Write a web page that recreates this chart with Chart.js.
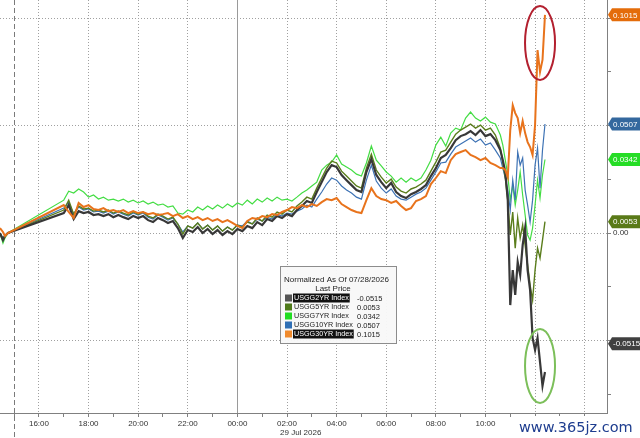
<!DOCTYPE html>
<html>
<head>
<meta charset="utf-8">
<script src="https://cdn.jsdelivr.net/npm/chart.js@4.4.1/dist/chart.umd.min.js"></script>
<style>
  html, body { margin: 0; padding: 0; background: #fff; }
</style>
</head>
<body>
<canvas id="chart" width="640" height="438"></canvas>
<script>
// x = hours from 00:00 on 28 Jul (24 = 00:00 on 29 Jul)
const times = [14.43, 14.55, 14.63, 14.75,
  17.0, 17.2, 17.4, 17.6, 17.8, 18.0, 18.2, 18.4, 18.6, 18.8,
  19.0, 19.2, 19.4, 19.6, 19.8, 20.0, 20.2, 20.4, 20.6, 20.8,
  21.0, 21.2, 21.4, 21.6, 21.8, 22.0, 22.2, 22.4, 22.6, 22.8,
  23.0, 23.2, 23.4, 23.6, 23.8, 24.0, 24.2, 24.4, 24.6, 24.8,
  25.0, 25.2, 25.4, 25.6, 25.8, 26.0, 26.2, 26.4, 26.6, 26.8,
  27.0, 27.2, 27.4, 27.6, 27.8, 28.0, 28.2, 28.4, 28.6, 28.8,
  29.0, 29.2, 29.4, 29.6, 29.8, 30.0, 30.2, 30.4, 30.6, 30.8,
  31.0, 31.2, 31.4, 31.6, 31.8, 32.0, 32.2, 32.4, 32.6, 32.8,
  33.0, 33.2, 33.4, 33.6, 33.8, 34.0, 34.2, 34.4, 34.6,
  34.7, 34.8, 34.9, 35.0, 35.1, 35.2, 35.3, 35.4, 35.5, 35.6,
  35.7, 35.8, 35.9, 36.0, 36.1, 36.2, 36.3, 36.4];

const usgg2yr = [0, -0.0033, -0.0014, 0,
  0.0093, 0.0130, 0.0065, 0.0102, 0.0093, 0.0098, 0.0084, 0.0088, 0.0079, 0.0088,
  0.0074, 0.0084, 0.0074, 0.0065, 0.0079, 0.0070, 0.0079, 0.0060, 0.0051, 0.0070,
  0.0060, 0.0047, 0.0056, 0.0023, -0.0023, 0.0014, 0.0005, 0.0028, 0, 0.0019,
  -0.0005, 0.0014, -0.0009, 0.0009, -0.0005, 0.0019, 0.0009, 0.0033, 0.0023, 0.0051,
  0.0037, 0.0065, 0.0056, 0.0079, 0.0070, 0.0088, 0.0079, 0.0107, 0.0126, 0.0149,
  0.0140, 0.0191, 0.0237, 0.0284, 0.0316, 0.0307, 0.0270, 0.0246, 0.0223, 0.0200,
  0.0191, 0.0284, 0.0344, 0.0270, 0.0237, 0.0209, 0.0233, 0.0191, 0.0172, 0.0163,
  0.0181, 0.0191, 0.0205, 0.0223, 0.0265, 0.0302, 0.0349, 0.0363, 0.0395, 0.0432,
  0.0451, 0.0460, 0.0474, 0.0456, 0.0479, 0.0451, 0.0460, 0.0432, 0.0386,
  0.0339, 0.0284, 0.0153, -0.0335, -0.0172, -0.0288, -0.0135, -0.0195, -0.0056, 0.0023,
  -0.0172, -0.0265, -0.0488, -0.0544, -0.0488, -0.0600, -0.0711, -0.0646];

const usgg5yr = [0, -0.0028, -0.0014, 0,
  0.0107, 0.0153, 0.0088, 0.0126, 0.0112, 0.0116, 0.0102, 0.0107, 0.0098, 0.0107,
  0.0093, 0.0102, 0.0093, 0.0084, 0.0098, 0.0088, 0.0098, 0.0079, 0.0070, 0.0088,
  0.0079, 0.0065, 0.0074, 0.0042, -0.0005, 0.0033, 0.0023, 0.0047, 0.0019, 0.0037,
  0.0014, 0.0033, 0.0009, 0.0028, 0.0014, 0.0037, 0.0028, 0.0051, 0.0042, 0.0070,
  0.0056, 0.0084, 0.0074, 0.0098, 0.0088, 0.0107, 0.0098, 0.0126, 0.0144, 0.0167,
  0.0158, 0.0209, 0.0256, 0.0302, 0.0335, 0.0326, 0.0288, 0.0265, 0.0242, 0.0219,
  0.0209, 0.0302, 0.0367, 0.0293, 0.0260, 0.0233, 0.0251, 0.0214, 0.0195, 0.0186,
  0.0205, 0.0214, 0.0228, 0.0246, 0.0288, 0.0330, 0.0377, 0.0386, 0.0423, 0.0460,
  0.0479, 0.0493, 0.0507, 0.0488, 0.0502, 0.0479, 0.0488, 0.0456, 0.0395,
  0.0330, 0.0256, 0.0153, -0.0009, 0.0098, -0.0070, 0.0070, -0.0023, 0.0037, -0.0056,
  -0.0149, -0.0242, -0.0312, -0.0172, -0.0070, -0.0116, -0.0033, 0.0053];

const usgg7yr = [0, -0.0047, -0.0023, 0,
  0.0153, 0.0195, 0.0186, 0.0205, 0.0191, 0.0167, 0.0177, 0.0158, 0.0167, 0.0153,
  0.0158, 0.0149, 0.0158, 0.0144, 0.0153, 0.0140, 0.0149, 0.0135, 0.0144, 0.0130,
  0.0135, 0.0121, 0.0126, 0.0093, 0.0088, 0.0107, 0.0098, 0.0121, 0.0107, 0.0126,
  0.0112, 0.0130, 0.0116, 0.0135, 0.0121, 0.0140, 0.0130, 0.0153, 0.0135, 0.0158,
  0.0144, 0.0163, 0.0149, 0.0167, 0.0153, 0.0158, 0.0149, 0.0167, 0.0186, 0.0200,
  0.0219, 0.0237, 0.0293, 0.0316, 0.0330, 0.0363, 0.0321, 0.0307, 0.0293, 0.0274,
  0.0265, 0.0326, 0.0405, 0.0339, 0.0312, 0.0284, 0.0265, 0.0237, 0.0256, 0.0237,
  0.0256, 0.0242, 0.0256, 0.0293, 0.0339, 0.0409, 0.0446, 0.0405, 0.0465, 0.0488,
  0.0479, 0.0535, 0.0563, 0.0535, 0.0521, 0.0539, 0.0516, 0.0507, 0.0456,
  0.0409, 0.0339, 0.0270, 0.0153, 0.0223, 0.0130, 0.0200, 0.0284, 0.0177, 0.0084,
  -0.0009, -0.0033, 0.0023, 0.0130, 0.0246, 0.0163, 0.0270, 0.0342];

const usgg10yr = [0, -0.0023, -0.0009, 0,
  0.0116, 0.0144, 0.0088, 0.0121, 0.0107, 0.0112, 0.0098, 0.0102, 0.0093, 0.0102,
  0.0088, 0.0098, 0.0088, 0.0079, 0.0093, 0.0084, 0.0093, 0.0074, 0.0065, 0.0084,
  0.0074, 0.0060, 0.0070, 0.0042, 0.0005, 0.0033, 0.0023, 0.0047, 0.0019, 0.0037,
  0.0014, 0.0033, 0.0009, 0.0028, 0.0014, 0.0037, 0.0033, 0.0056, 0.0042, 0.0065,
  0.0056, 0.0074, 0.0065, 0.0088, 0.0079, 0.0093, 0.0088, 0.0102, 0.0112, 0.0130,
  0.0121, 0.0158, 0.0191, 0.0228, 0.0256, 0.0246, 0.0219, 0.0200, 0.0186, 0.0167,
  0.0158, 0.0246, 0.0316, 0.0242, 0.0209, 0.0186, 0.0205, 0.0172, 0.0158, 0.0153,
  0.0167, 0.0181, 0.0191, 0.0209, 0.0246, 0.0284, 0.0326, 0.0330, 0.0367, 0.0400,
  0.0414, 0.0428, 0.0442, 0.0423, 0.0437, 0.0409, 0.0419, 0.0386, 0.0349,
  0.0302, 0.0256, 0.0200, 0.0107, 0.0246, 0.0153, 0.0377, 0.0316, 0.0349, 0.0200,
  0.0130, 0.0051, 0.0153, 0.0316, 0.0395, 0.0209, 0.0386, 0.0507];

const usgg30yr = [0.0023, 0.0005, -0.0014, 0,
  0.0130, 0.0098, 0.0070, 0.0140, 0.0121, 0.0130, 0.0112, 0.0107, 0.0116, 0.0102,
  0.0107, 0.0098, 0.0107, 0.0093, 0.0102, 0.0093, 0.0098, 0.0088, 0.0093, 0.0084,
  0.0088, 0.0093, 0.0079, 0.0088, 0.0070, 0.0079, 0.0065, 0.0074, 0.0060, 0.0070,
  0.0056, 0.0065, 0.0051, 0.0060, 0.0047, 0.0033, 0.0023, 0.0056, 0.0070, 0.0065,
  0.0079, 0.0074, 0.0088, 0.0084, 0.0098, 0.0107, 0.0121, 0.0116, 0.0130, 0.0121,
  0.0135, 0.0126, 0.0144, 0.0158, 0.0153, 0.0163, 0.0135, 0.0121, 0.0107, 0.0098,
  0.0093, 0.0153, 0.0209, 0.0172, 0.0158, 0.0153, 0.0140, 0.0149, 0.0126, 0.0107,
  0.0116, 0.0149, 0.0158, 0.0172, 0.0228, 0.0256, 0.0288, 0.0279, 0.0339, 0.0367,
  0.0377, 0.0386, 0.0363, 0.0353, 0.0339, 0.0349, 0.0326, 0.0316, 0.0302,
  0.0302, 0.0293, 0.0260, 0.0479, 0.0595, 0.0558, 0.0535, 0.0465, 0.0521, 0.0465,
  0.0423, 0.0400, 0.0363, 0.0502, 0.0851, 0.0749, 0.0805, 0.1015];

const seriesNames = ["USGG2YR Index", "USGG5YR Index", "USGG7YR Index", "USGG10YR Index", "USGG30YR Index"];
const lastPrices = [-0.0515, 0.0053, 0.0342, 0.0507, 0.1015];
const hourTicks = [15, 16, 17, 18, 19, 20, 21, 22, 23, 24, 25, 26, 27, 28, 29, 30, 31, 32, 33, 34, 35, 36, 37, 38];
const valueTicks = [-0.075, -0.05, -0.025, 0, 0.025, 0.05, 0.075, 0.1];
const valueGrid = [-0.05, 0, 0.05, 0.1];

// colours: line, legend swatch, price badge
const lineColors = ["#383838", "#5a7d1c", "#44dd44", "#3d72b4", "#e8731c"];
const swatchColors = ["#555555", "#4f7a1a", "#22dd22", "#2f6fb5", "#f08a2c"];
const badgeColors = ["#404040", "#5a7a18", "#26dd26", "#34689e", "#e46c0a"];

const sessionStart = 15.0;
const dayBreak = 24.0;

const pts = arr => times.map((t, i) => ({ x: t, y: arr[i] }));
const FONT = '"Liberation Sans", Arial, sans-serif';
const clear = "rgba(0,0,0,0)";

const extras = {
  id: "bbgExtras",
  beforeDatasetsDraw(chart) {
    const { ctx, chartArea, scales } = chart;
    ctx.save();
    // day break
    const xd = Math.round(scales.x.getPixelForValue(dayBreak)) + 0.5;
    ctx.strokeStyle = "#9a9a9a";
    ctx.lineWidth = 1;
    ctx.beginPath();
    ctx.moveTo(xd, chartArea.top);
    ctx.lineTo(xd, chartArea.bottom);
    ctx.stroke();
    // session start, dashed through the axis
    const xs = Math.round(scales.x.getPixelForValue(sessionStart)) + 0.5;
    ctx.strokeStyle = "#7a7a7a";
    ctx.setLineDash([5, 3]);
    ctx.beginPath();
    ctx.moveTo(xs, 0);
    ctx.lineTo(xs, chart.height);
    ctx.stroke();
    ctx.restore();
  },
  afterDatasetsDraw(chart) {
    const { ctx, chartArea, scales } = chart;
    ctx.save();

    // annotation ellipses around the last moves
    const rings = [
      { x: 36.2, y: 0.0884, color: "#b3202f" },
      { x: 36.2, y: -0.0618, color: "#7cbf5a" }
    ];
    rings.forEach(r => {
      ctx.strokeStyle = r.color;
      ctx.lineWidth = 2;
      ctx.beginPath();
      ctx.ellipse(scales.x.getPixelForValue(r.x), scales.y.getPixelForValue(r.y), 15, 37, 0, 0, Math.PI * 2);
      ctx.stroke();
    });

    // legend box
    const bx = 280, by = 266, bw = 116, bh = 77;
    ctx.fillStyle = "rgba(248,248,248,0.96)";
    ctx.fillRect(bx, by, bw, bh);
    ctx.strokeStyle = "#8c8c8c";
    ctx.lineWidth = 1;
    ctx.strokeRect(bx + 0.5, by + 0.5, bw, bh);
    ctx.textBaseline = "middle";
    ctx.fillStyle = "#222";
    ctx.font = "8px " + FONT;
    ctx.textAlign = "left";
    ctx.fillText("Normalized As Of 07/28/2026", bx + 4, by + 14);
    ctx.textAlign = "center";
    ctx.fillText("Last Price", bx + 53, by + 23);
    ctx.textAlign = "left";
    seriesNames.forEach((name, i) => {
      const ry = by + 32 + i * 9;
      ctx.fillStyle = swatchColors[i];
      ctx.fillRect(bx + 5, ry - 3.5, 7, 7);
      ctx.font = "7.2px " + FONT;
      const hl = i === 0 || i === 4;
      if (hl) {
        ctx.fillStyle = "#111";
        ctx.fillRect(bx + 13, ry - 4.5, ctx.measureText(name).width + 2, 9);
      }
      ctx.fillStyle = hl ? "#fff" : "#222";
      ctx.fillText(name, bx + 14, ry + 0.5);
      ctx.font = "7.5px " + FONT;
      ctx.fillStyle = "#222";
      ctx.fillText(lastPrices[i].toFixed(4), bx + 77, ry + 0.5);
    });

    // price badges on the right axis
    const x0 = chartArea.right;
    ctx.font = "8px " + FONT;
    lastPrices.forEach((v, i) => {
      const y = Math.max(7, scales.y.getPixelForValue(v));
      ctx.fillStyle = badgeColors[i];
      ctx.beginPath();
      ctx.moveTo(x0 + 1, y);
      ctx.lineTo(x0 + 5, y - 6.5);
      ctx.lineTo(640, y - 6.5);
      ctx.lineTo(640, y + 6.5);
      ctx.lineTo(x0 + 5, y + 6.5);
      ctx.closePath();
      ctx.fill();
      ctx.fillStyle = "#fff";
      ctx.textAlign = "left";
      ctx.fillText(v.toFixed(4), x0 + 6, y + 0.5);
    });

    // date under the axis
    ctx.fillStyle = "#333";
    ctx.font = "8px " + FONT;
    ctx.fillText("29 Jul 2026", scales.x.getPixelForValue(26) - 7, 433);

    // watermark
    ctx.font = '14.5px "DejaVu Sans", sans-serif';
    const wm = "www.365jz.com";
    const ww = ctx.measureText(wm).width;
    ctx.fillStyle = "#fff";
    ctx.fillRect(516, 416, ww + 6, 22);
    ctx.fillStyle = "#1e3d8f";
    ctx.fillText(wm, 519, 428);
    ctx.restore();
  }
};

const ds = (i, data, width, order) => ({
  label: seriesNames[i],
  data: pts(data),
  borderColor: lineColors[i],
  borderWidth: width,
  pointRadius: 0,
  tension: 0,
  order: order
});

new Chart(document.getElementById("chart"), {
  type: "line",
  data: {
    datasets: [
      ds(4, usgg30yr, 2, 0),
      ds(0, usgg2yr, 2.2, 1),
      ds(1, usgg5yr, 1.4, 2),
      ds(3, usgg10yr, 1.2, 3),
      ds(2, usgg7yr, 1.2, 4)
    ]
  },
  options: {
    responsive: false,
    animation: false,
    layout: { padding: 0 },
    plugins: { legend: { display: false }, tooltip: { enabled: false } },
    scales: {
      x: {
        type: "linear",
        min: 14.43,
        max: 38.9,
        afterBuildTicks: s => { s.ticks = hourTicks.map(v => ({ value: v })); },
        afterFit: s => { s.height = 25; s.paddingLeft = 0; s.paddingRight = 0; },
        grid: {
          color: c => (c.tick && c.tick.value % 2 === 0) ? "#a0a0a0" : clear,
          tickColor: "#808080",
          tickLength: 4
        },
        border: { display: true, color: "#808080", dash: [1, 2] },
        ticks: {
          autoSkip: false,
          maxRotation: 0,
          padding: 2,
          color: "#333",
          font: { family: FONT, size: 8 },
          callback: v => v % 2 === 0 ? String(v % 24).padStart(2, "0") + ":00" : ""
        }
      },
      y: {
        position: "right",
        min: -0.0837,
        max: 0.1084,
        afterBuildTicks: s => { s.ticks = valueTicks.map(v => ({ value: v })); },
        afterFit: s => { s.width = 33; s.paddingTop = 0; s.paddingBottom = 0; },
        grid: {
          color: c => (c.tick && valueGrid.some(g => Math.abs(g - c.tick.value) < 1e-6)) ? "#a0a0a0" : clear,
          tickColor: "#808080",
          tickLength: 4
        },
        border: { display: true, color: "#808080", dash: [1, 2] },
        ticks: {
          padding: 2,
          color: "#333",
          font: { family: FONT, size: 8 },
          callback: v => v === 0 ? "0.00" : ""
        }
      }
    }
  },
  plugins: [extras]
});
</script>
</body>
</html>
